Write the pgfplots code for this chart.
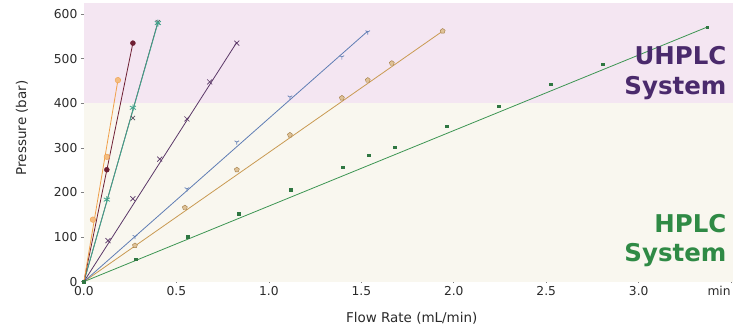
\documentclass[border=0pt]{standalone}
\usepackage{fontspec}
\setmainfont{DejaVu Sans}
\usepackage{graphicx}
\usepackage{pgfplots}
\pgfplotsset{compat=1.18}
\definecolor{pinkbg}{HTML}{F4E6F2}
\definecolor{creambg}{HTML}{F9F7EF}
\definecolor{uhplc}{HTML}{4A2A6C}
\definecolor{hplc}{HTML}{2F8A45}
\definecolor{corange}{HTML}{F0A04A}
\definecolor{cmaroon}{HTML}{6E1F33}
\definecolor{cteal}{HTML}{3FA58C}
\definecolor{cgray}{HTML}{5A5560}
\definecolor{cpurple}{HTML}{5B3868}
\definecolor{cblue}{HTML}{5F7DB4}
\definecolor{cgold}{HTML}{C99A52}
\definecolor{cgreen}{HTML}{3C9552}
\definecolor{txt}{HTML}{2A2A2A}
\begin{document}
\begin{tikzpicture}
\begin{axis}[
  name=ax,
  scale only axis, width=650pt, height=279pt,
  xmin=0, xmax=3.51, ymin=0, ymax=625,
  axis x line*=bottom, axis y line*=left,
  axis line style={draw=gray, line width=0.6pt, -},
  xtick={0,0.5,1,1.5,2,2.5,3}, ytick={0,100,200,300,400,500,600},
  extra x ticks={3.5}, extra x tick labels={min},
  extra x tick style={xticklabel style={anchor=north east, xshift=3pt}},
  tick style={draw=gray, line width=0.6pt},
  major tick length=3pt,
  ytick align=outside, xtick align=center,
  /pgf/number format/assume math mode=true,
  xticklabel style={/pgf/number format/fixed, /pgf/number format/fixed zerofill, /pgf/number format/precision=1},
  ticklabel style={font=\fontsize{12.3}{14}\selectfont, text=txt},
  xlabel={Flow Rate (mL/min)}, ylabel={Pressure (bar)},
  label style={font=\fontsize{13.5}{16}\selectfont, text=txt},
  xlabel style={at={(axis description cs:0.505,-0.13)}, anchor=center},
  ylabel style={at={(axis description cs:-0.0954,0.552)}, anchor=center},
  clip=false,
]
\fill[creambg] (axis cs:0,0) rectangle (axis cs:3.51,400);
\fill[pinkbg] (axis cs:0,400) rectangle (axis cs:3.51,625);

% green (HPLC column 1)
\addplot[cgreen, line width=0.8pt] coordinates {(0,0) (3.37,571)};
\addplot[only marks, mark=square*, mark size=1.2pt, cgreen!80!black] coordinates {
(0,0) (0.281,51) (0.562,101) (0.838,152) (1.119,206) (1.40,257) (1.54,284)
(1.68,302) (1.962,349) (2.243,394) (2.524,443) (2.805,488) (3.37,571)};
% gold
\addplot[cgold, line width=0.8pt] coordinates {(0,0) (1.94,562)};
\addplot[only marks, mark=pentagon*, mark size=2.6pt, draw=cgold!80!black, fill=cgold!60!white] coordinates {
(0.276,81) (0.546,166) (0.827,251) (1.114,329) (1.395,412) (1.535,452) (1.665,490) (1.94,562)};
% blue
\addplot[cblue, line width=0.8pt] coordinates {(0,0) (1.535,562)};
\addplot[only marks, mark=Mercedes star flipped, mark size=2.6pt, cblue, line width=0.7pt] coordinates {
(0.276,101) (0.557,208) (0.827,313) (1.114,414) (1.395,504) (1.535,560)};
% purple
\addplot[cpurple, line width=0.8pt] coordinates {(0,0) (0.827,537)};
\addplot[only marks, mark=x, mark size=3.5pt, cpurple, line width=0.7pt] coordinates {
(0.13,92) (0.265,186) (0.41,275) (0.557,365) (0.68,448) (0.827,535)};
% gray
\addplot[cgray, line width=0.8pt] coordinates {(0,0) (0.40,582)};
\addplot[only marks, mark=x, mark size=3pt, cgray, line width=0.7pt] coordinates {
(0.265,367) (0.40,582)};
% teal
\addplot[cteal, line width=0.8pt] coordinates {(0,0) (0.40,580)};
\addplot[only marks, mark=asterisk, mark size=3.5pt, cteal, line width=0.8pt] coordinates {
(0.124,184) (0.265,390) (0.40,580)};
% maroon
\addplot[cmaroon, line width=0.8pt] coordinates {(0,0) (0.265,535)};
\addplot[only marks, mark=*, mark size=2.5pt, cmaroon] coordinates {
(0.124,251) (0.265,535)};
% orange
\addplot[corange, line width=0.8pt] coordinates {(0,0) (0.184,452)};
\addplot[only marks, mark=*, mark size=2.8pt, draw=corange, fill=corange!70!white] coordinates {
(0.049,139) (0.124,280) (0.184,452)};

\node[anchor=base east, inner sep=0pt, font=\fontsize{24.5}{28}\selectfont\bfseries, text=uhplc] at (axis cs:3.475,488) {UHPLC};
\node[anchor=base east, inner sep=0pt, font=\fontsize{24.5}{28}\selectfont\bfseries, text=uhplc] at (axis cs:3.475,419) {System};
\node[anchor=base east, inner sep=0pt, font=\fontsize{24.5}{28}\selectfont\bfseries, text=hplc] at (axis cs:3.475,110) {HPLC};
\node[anchor=base east, inner sep=0pt, font=\fontsize{24.5}{28}\selectfont\bfseries, text=hplc] at (axis cs:3.475,45) {System};
\end{axis}
\path (ax.south west) ++(-84pt,-44pt) coordinate (bbA);
\path (ax.north east) ++(0pt,3pt) coordinate (bbB);
\path (bbA) (bbB);
\end{tikzpicture}
\end{document}
